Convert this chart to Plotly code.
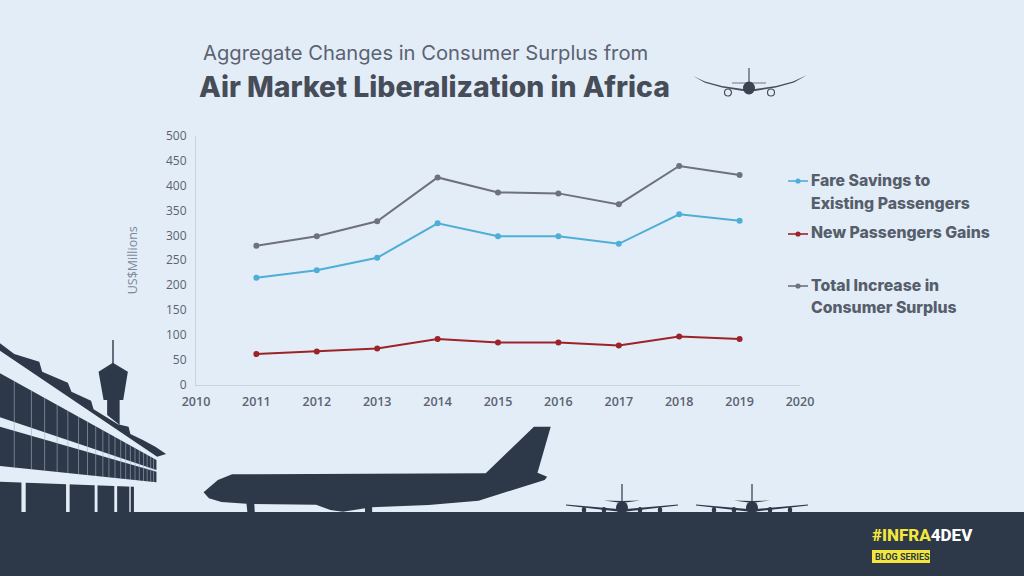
import plotly.graph_objects as go

W, H = 1024, 576

years = [2011, 2012, 2013, 2014, 2015, 2016, 2017, 2018, 2019]
fare_savings = [215, 230, 255, 324, 298, 298, 283, 342, 329]
new_passengers = [62, 67, 73, 92, 85, 85, 79, 97, 92]
total_increase = [279, 298, 328, 416, 386, 384, 362, 439, 421]

BG = '#e3edf8'
DARK = '#2d3849'
YELLOW = '#f4e73c'
TICK = '#5b6270'
BLUE = '#4eaed6'
RED = '#9c2327'
GREY = '#6e727a'


# page pixels to paper coordinates (margins are zero)
def px(x):
    return x / W


def py(y):
    return 1 - y / H


def poly(points, color=DARK):
    d = 'M' + ' L'.join(f'{px(x):.5f},{py(y):.5f}' for x, y in points) + ' Z'
    return dict(type='path', path=d, xref='paper', yref='paper', fillcolor=color,
                line=dict(width=0), layer='below')


def seg(x0, y0, x1, y1, color=DARK, width=1.0):
    return dict(type='line', x0=px(x0), y0=py(y0), x1=px(x1), y1=py(y1), xref='paper', yref='paper',
                line=dict(color=color, width=width), layer='below')


def blob(cx, cy, rx, ry, color=DARK, line_color=None, line_width=0):
    return dict(type='circle', x0=px(cx - rx), x1=px(cx + rx), y0=py(cy - ry), y1=py(cy + ry),
                xref='paper', yref='paper', fillcolor=color,
                line=dict(width=line_width, color=line_color or color), layer='below')


# outlines below were traced on a crop from (0, 330), 2.8x wide and 3x high
def zoomed(points):
    return [(x / 2.8, 330 + y / 3) for x, y in points]


shapes = []

# terminal building
shapes.append(poly(zoomed([(0, 40), (40, 72), (110, 95), (118, 125), (190, 158), (200, 185), (255, 212),
                           (262, 238), (330, 283), (360, 290), (365, 312), (400, 330), (435, 350),
                           (465, 372), (440, 380), (0, 62)])))
shapes.append(poly(zoomed([(0, 130), (438, 390), (438, 420), (0, 262)])))
shapes.append(poly(zoomed([(0, 290), (438, 425), (438, 457), (0, 408)])))
shapes.append(poly(zoomed([(0, 455), (375, 470), (375, 560), (0, 560)])))
for zx in [40, 88, 125, 160, 190, 220, 245, 268, 288, 305, 322, 338, 352, 365, 378, 390, 402, 412, 422, 430]:
    top = 130 + zx * 260 / 438
    bottom = 408 + zx * 49 / 438
    shapes.append(seg(zx / 2.8, 330 + top / 3, zx / 2.8, 330 + bottom / 3, '#9fb0c4', 0.6))
for zx0, zx1 in [(60, 72), (185, 195), (265, 273), (320, 328), (362, 366)]:
    shapes.append(poly(zoomed([(zx0, 450), (zx1, 450), (zx1, 560), (zx0, 560)]), BG))

# control tower
shapes.append(seg(113, 340, 113, 364, DARK, 1.4))
shapes.append(poly(zoomed([(316, 98), (358, 125), (345, 210), (335, 210), (335, 285), (300, 255), (300, 210),
                           (290, 210), (276, 125)])))

# big plane side view
shapes.append(poly(zoomed([(570, 487), (610, 450), (650, 433), (1360, 430), (1495, 290), (1542, 290),
                           (1505, 428), (1532, 440), (1525, 450), (1340, 512), (1200, 525), (1040, 532),
                           (960, 545), (925, 540), (885, 524), (700, 522), (620, 516), (585, 505)])))
shapes.append(poly(zoomed([(690, 520), (712, 520), (714, 560), (694, 560)])))
shapes.append(poly(zoomed([(1022, 530), (1042, 530), (1042, 560), (1022, 560)])))

# two small planes head-on
for cx in [622, 752]:
    shapes.append(seg(cx, 484, cx, 502, DARK, 1.2))
    shapes.append(poly([(cx - 18, 500.5), (cx, 501), (cx + 18, 500.5), (cx, 503)]))
    shapes.append(poly([(cx - 56, 504.5), (cx - 4, 509), (cx + 4, 509), (cx + 56, 504.5), (cx + 56, 505.5),
                        (cx, 512), (cx - 56, 505.5)]))
    shapes.append(blob(cx, 507.5, 6, 6))
    for dx in [-38, -18, 18, 38]:
        shapes.append(blob(cx + dx, 510, 2.2, 3))

# plane beside the title
shapes.append(seg(749, 68, 749, 84, '#484f5b', 1.2))
shapes.append(seg(732, 83, 766, 83, '#6a7280', 1.0))
shapes.append(poly([(693, 76), (705, 81.5), (722, 86), (743, 89), (755, 89), (776, 86), (793, 81.5), (807, 75),
                    (794, 82.5), (776, 87.5), (755, 91), (743, 91), (722, 87.5), (705, 82.8)], '#484f5b'))
shapes.append(blob(749, 88, 6, 6.5, '#3b4350'))
shapes.append(blob(728, 92.5, 3.5, 3.5, BG, '#484f5b', 1.2))
shapes.append(blob(771, 92.5, 3.5, 3.5, BG, '#484f5b', 1.2))

# ground band and logo badge
shapes.append(dict(type='rect', x0=0, x1=1, y0=0, y1=py(512), xref='paper', yref='paper',
                   fillcolor=DARK, line=dict(width=0), layer='below'))
shapes.append(dict(type='rect', x0=px(872), x1=px(930), y0=py(563), y1=py(550), xref='paper', yref='paper',
                   fillcolor=YELLOW, line=dict(width=0), layer='below'))

# legend samples
for y, color in [(181, BLUE), (234, RED), (286, GREY)]:
    shapes.append(seg(788, y, 808, y, color, 1.6))
    shapes.append(blob(798, y, 2.6, 2.6, color))


def note(text, x, y, size, color, family='Inter', weight=400, anchor='left'):
    return dict(text=text, x=px(x), y=py(y), xref='paper', yref='paper', showarrow=False, xanchor=anchor,
                yanchor='middle', font=dict(family=family, size=size, color=color, weight=weight))


annotations = [
    note('Aggregate Changes in Consumer Surplus from', 201, 52, 20.2, '#5b6270'),
    note('Air Market Liberalization in Africa', 197, 86, 28.4, '#474d58', weight=800),
    note(f'<span style="color:{YELLOW}">#INFRA</span>4DEV', 870, 535, 17, '#ffffff',
         family='Roboto', weight=800),
    note('BLOG SERIES', 873, 556.5, 9, DARK, family='Roboto', weight=700),
]
legend_lines = [('Fare Savings to', 180), ('Existing Passengers', 203), ('New Passengers Gains', 233),
                ('Total Increase in', 285), ('Consumer Surplus', 307)]
for text, y in legend_lines:
    annotations.append(note(text, 809, y, 15.8, '#575e6b', weight=800))

fig = go.Figure()
series = [
    ('Total Increase in Consumer Surplus', total_increase, GREY),
    ('Fare Savings to Existing Passengers', fare_savings, BLUE),
    ('New Passengers Gains', new_passengers, RED),
]
for name, values, color in series:
    fig.add_trace(go.Scatter(x=years, y=values, name=name, mode='lines+markers',
                             line=dict(color=color, width=2), marker=dict(color=color, size=6)))

fig.update_layout(
    width=W, height=H,
    paper_bgcolor=BG, plot_bgcolor='rgba(0,0,0,0)',
    margin=dict(l=0, r=0, t=0, b=0),
    shapes=shapes, annotations=annotations,
    showlegend=False,
)
fig.update_xaxes(domain=[px(196), px(800)], range=[2010, 2020], dtick=1, showgrid=False, zeroline=False,
                 showline=True, linecolor='#c9d3de', ticks='', ticklabelstandoff=5, automargin=False,
                 tickfont=dict(family='Open Sans', size=12.5, color=TICK, weight=600))
fig.update_yaxes(domain=[py(385), py(135.5)], range=[0, 500], dtick=50, showgrid=False, zeroline=False,
                 showline=True, linecolor='#c9d3de', ticks='', ticklabelstandoff=6, automargin=False,
                 tickfont=dict(family='Open Sans', size=12, color=TICK),
                 title=dict(text='US$Millions', standoff=25, font=dict(family='Open Sans', size=12.5, color='#7d8996')))

# the page's default body margin would push the figure off by 8px
fig.write_html("out.html", config={'displayModeBar': False},
               post_script="document.body.style.margin='0';document.body.style.overflow='hidden';")
